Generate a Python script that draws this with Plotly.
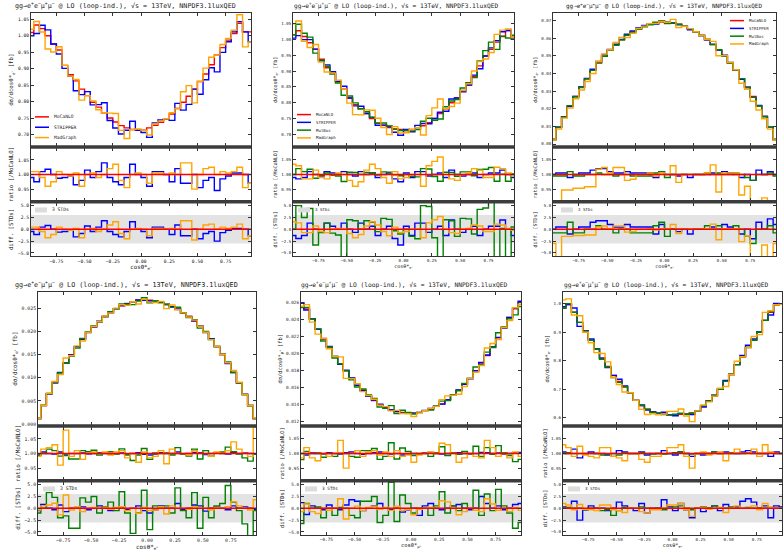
import plotly.graph_objects as go

W, H = 784, 553

# ---------------------------------------------------------------- binning / ticks
BIN_CENTRES = [-0.975, -0.925, -0.875, -0.825, -0.775, -0.725, -0.675, -0.625, -0.575, -0.525,
               -0.475, -0.425, -0.375, -0.325, -0.275, -0.225, -0.175, -0.125, -0.075, -0.025,
               0.025, 0.075, 0.125, 0.175, 0.225, 0.275, 0.325, 0.375, 0.425, 0.475,
               0.525, 0.575, 0.625, 0.675, 0.725, 0.775, 0.825, 0.875, 0.925, 0.975]
X_TICKS = [-0.75, -0.50, -0.25, 0.00, 0.25, 0.50, 0.75]
RATIO_TICKS = [0.95, 1.00, 1.05]
DIFF_TICKS = [-5.0, -2.5, 0.0, 2.5, 5.0]
STD_BAND = 3.0

# ---------------------------------------------------------------- panel 1
P1_MOCANLO = [1.010, 1.033, 1.022, 1.000, 0.975, 0.957, 0.910, 0.882, 0.863, 0.838,
              0.818, 0.798, 0.783, 0.766, 0.750, 0.738, 0.727, 0.720, 0.715, 0.713,
              0.713, 0.720, 0.728, 0.737, 0.748, 0.762, 0.779, 0.798, 0.816, 0.838,
              0.861, 0.884, 0.912, 0.942, 0.964, 0.987, 1.007, 1.038, 1.012, 1.012]
P1_STRIPPER_RATIO = [0.990, 0.975, 1.010, 1.018, 1.000, 0.987, 0.990, 0.995, 0.965, 0.980,
                     1.015, 0.990, 1.010, 1.040, 0.990, 0.975, 0.965, 0.990, 1.035, 1.000,
                     0.990, 0.960, 1.010, 1.010, 1.000, 0.975, 1.020, 0.970, 0.970, 1.000,
                     0.955, 0.980, 0.990, 0.945, 0.985, 0.995, 1.005, 1.005, 1.000, 0.970]
P1_STRIPPER_DIFF = [-0.45, -1.1, 0.45, 0.8, 0.0, -0.6, -0.45, -0.2, -1.6, -0.9,
                    0.7, -0.45, 0.45, 1.8, -0.45, -1.1, -1.6, -0.45, 1.6, 0.0,
                    -0.45, -1.8, 0.45, 0.45, 0.0, -1.1, 0.9, -1.35, -1.35, 0.0,
                    -2.0, -0.9, -0.45, -2.5, -0.7, -0.2, 0.2, 0.2, 0.0, -1.35]
P1_MADGRAPH_RATIO = [1.010, 1.010, 0.990, 0.960, 0.975, 1.010, 1.000, 0.995, 1.005, 0.960,
                     1.000, 1.005, 0.990, 1.000, 1.020, 1.035, 0.980, 0.955, 1.000, 1.005,
                     1.000, 0.970, 1.005, 1.005, 1.000, 1.005, 1.000, 1.040, 1.040, 0.950,
                     1.000, 1.020, 1.025, 1.000, 1.010, 1.005, 1.010, 1.025, 0.955, 0.970]
P1_MADGRAPH_DIFF = [0.45, 0.45, -0.45, -1.8, -1.1, 0.45, 0.0, -0.2, 0.2, -1.8,
                    0.0, 0.2, -0.45, 0.0, 0.9, 1.6, -0.9, -2.0, 0.0, 0.2,
                    0.0, -1.35, 0.2, 0.2, 0.0, 0.2, 0.0, 1.8, 1.8, -2.25,
                    0.0, 0.9, 1.1, 0.0, 0.45, 0.2, 0.45, 1.1, -2.0, -1.35]

# ---------------------------------------------------------------- panel 2
P2_MOCANLO = [1.015, 1.028, 1.010, 0.990, 0.970, 0.938, 0.911, 0.894, 0.867, 0.844,
              0.815, 0.794, 0.781, 0.766, 0.750, 0.736, 0.729, 0.721, 0.717, 0.715,
              0.712, 0.715, 0.721, 0.727, 0.737, 0.750, 0.766, 0.781, 0.800, 0.815,
              0.839, 0.856, 0.883, 0.917, 0.948, 0.969, 0.992, 1.010, 1.029, 1.012]
P2_STRIPPER_RATIO = [0.990, 0.985, 0.990, 1.010, 1.000, 0.995, 1.010, 1.005, 1.000, 1.010,
                     1.000, 0.995, 1.010, 1.000, 1.005, 0.990, 1.000, 1.005, 0.985, 0.975,
                     1.005, 0.990, 1.010, 1.010, 0.995, 1.000, 1.005, 0.990, 1.015, 1.000,
                     0.995, 1.000, 1.005, 0.990, 1.000, 1.005, 1.005, 1.015, 1.000, 0.990]
P2_STRIPPER_DIFF = [-1.3, -1.95, -1.3, 1.3, 0.0, -0.65, 1.3, 0.65, 0.0, 1.3,
                    0.0, -0.65, 1.3, 0.0, 0.65, -1.3, 0.0, 0.65, -1.95, -3.3,
                    0.65, -1.3, 1.3, 1.3, -0.65, 0.0, 0.65, -1.3, 1.95, 0.0,
                    -0.65, 0.0, 0.65, -1.3, 0.0, 0.65, 0.65, 1.95, 0.0, -1.3]
P2_MULBOS_RATIO = [1.000, 1.020, 1.010, 1.018, 0.987, 0.997, 1.005, 0.997, 0.995, 0.976,
                   1.008, 1.007, 1.000, 1.007, 1.006, 0.998, 1.009, 1.008, 0.999, 0.996,
                   1.000, 0.994, 0.992, 1.020, 1.019, 0.993, 0.977, 1.008, 1.007, 0.994,
                   1.009, 1.009, 0.996, 1.017, 1.018, 1.024, 0.977, 1.001, 0.977, 1.002]
P2_MULBOS_DIFF = [0.0, 5.0, 2.5, 4.4, -3.3, -0.7, 1.3, -0.8, -1.2, -6.0,
                  2.0, 1.8, 0.0, 1.8, 1.5, -0.5, 2.3, 2.1, -0.3, -1.0,
                  0.0, -1.5, -2.0, 5.0, 4.8, -1.8, -5.8, 2.0, 1.8, -1.5,
                  2.3, 2.2, -1.0, 4.2, 4.5, 6.0, -5.8, 0.2, -5.8, 0.5]
P2_MADGRAPH_RATIO = [1.035, 1.030, 0.985, 0.985, 1.015, 0.990, 0.985, 1.000, 1.005, 1.000,
                     0.980, 0.960, 0.975, 1.015, 1.035, 1.020, 0.990, 0.970, 1.010, 0.985,
                     0.990, 1.000, 1.000, 0.960, 1.030, 1.045, 1.060, 1.000, 0.985, 0.980,
                     1.000, 1.005, 1.020, 1.015, 0.990, 0.990, 1.025, 1.020, 1.005, 0.995]
P2_MADGRAPH_DIFF = [1.6, 1.35, -0.7, -0.7, 0.7, -0.45, -0.7, 0.0, 0.2, 0.0,
                    -0.9, -1.8, -1.1, 0.7, 1.6, 0.9, -0.45, -1.35, 0.45, -0.7,
                    -0.45, 0.0, 0.0, -1.8, 1.35, 2.0, 2.7, 0.0, -0.7, -0.9,
                    0.0, 0.2, 0.9, 0.7, -0.45, -0.45, 1.1, 0.9, 0.2, -0.2]

# ---------------------------------------------------------------- panel 3
P3_MOCANLO = [0.0026, 0.0095, 0.0155, 0.0216, 0.0270, 0.0322, 0.0370, 0.0418, 0.0460, 0.0498,
              0.0532, 0.0563, 0.0591, 0.0617, 0.0638, 0.0655, 0.0669, 0.0680, 0.0688, 0.0692,
              0.0691, 0.0687, 0.0680, 0.0668, 0.0655, 0.0637, 0.0616, 0.0592, 0.0564, 0.0533,
              0.0499, 0.0460, 0.0419, 0.0371, 0.0323, 0.0270, 0.0216, 0.0156, 0.0095, 0.0026]
P3_STRIPPER_RATIO = [1.000, 1.005, 1.005, 0.990, 1.000, 1.005, 1.005, 1.015, 1.020, 1.020,
                     1.010, 1.005, 1.005, 1.010, 1.005, 1.005, 1.005, 1.005, 0.990, 1.010,
                     1.000, 1.000, 0.995, 1.000, 0.990, 1.000, 1.000, 1.000, 1.005, 1.000,
                     1.010, 1.005, 1.000, 0.990, 1.000, 0.980, 1.015, 1.000, 1.010, 1.000]
P3_STRIPPER_DIFF = [0.0, 0.5, 0.5, -1.0, 0.0, 0.5, 0.5, 1.5, 1.8, 1.8,
                    1.0, 0.5, 0.5, 1.0, 0.5, 0.5, 0.5, 0.5, -1.0, 1.0,
                    0.0, 0.0, -0.5, 0.0, -1.0, 0.0, 0.0, 0.0, 0.5, 0.0,
                    1.0, 0.5, 0.0, -1.0, 0.0, -2.0, 1.5, 0.0, 2.2, 1.0]
P3_MULBOS_RATIO = [0.995, 0.995, 0.995, 1.010, 0.995, 0.995, 1.000, 1.000, 1.005, 1.000,
                   1.000, 0.995, 1.000, 1.000, 0.995, 0.995, 0.995, 0.995, 1.005, 1.010,
                   0.990, 1.000, 1.000, 1.000, 1.000, 1.000, 1.000, 1.005, 1.000, 1.005,
                   1.000, 1.000, 1.005, 1.000, 0.990, 0.980, 1.000, 1.000, 1.005, 0.995]
P3_MULBOS_DIFF = [-0.75, -0.75, -0.75, 1.5, -0.75, -0.75, 0.0, 0.0, 0.75, 0.0,
                  0.0, -0.75, 0.0, 0.0, -0.75, -0.75, -0.75, -0.75, 0.75, 1.5,
                  -1.5, 0.0, 0.0, 0.0, 0.0, 0.0, 0.0, 0.75, 0.0, 0.75,
                  0.0, 0.0, 0.75, 0.0, -1.5, -3.0, 0.0, 0.0, 0.75, -0.75]
P3_MADGRAPH_RATIO = [0.880, 0.900, 0.947, 0.947, 0.953, 0.953, 0.958, 0.958, 1.018, 1.024,
                     1.005, 1.024, 1.024, 0.980, 0.984, 1.000, 1.000, 1.005, 0.995, 1.005,
                     1.000, 1.030, 0.973, 1.000, 1.000, 1.000, 1.000, 1.005, 1.033, 0.940,
                     1.005, 1.005, 1.005, 0.930, 0.960, 0.900, 0.895, 0.920, 0.890, 0.880]
P3_MADGRAPH_DIFF = [-3.0, -6.0, -1.5, -1.5, -1.3, -1.3, -1.2, -1.2, 0.5, 0.7,
                    0.1, 0.7, 0.7, -0.6, -0.5, 0.0, 0.0, 0.15, -0.15, 0.15,
                    0.0, 1.0, -0.9, 0.0, 0.0, 0.0, 0.0, 0.15, 1.1, -2.2,
                    0.15, 0.15, 0.15, -2.6, -1.4, -6.0, -6.0, -3.3, -6.0, -3.0]

# ---------------------------------------------------------------- panel 4
P4_MOCANLO = [0.0012, 0.0040, 0.0065, 0.0089, 0.0111, 0.0132, 0.0149, 0.0167, 0.0183, 0.0198,
              0.0210, 0.0221, 0.0232, 0.0241, 0.0249, 0.0255, 0.0260, 0.0264, 0.0267, 0.0268,
              0.0267, 0.0265, 0.0262, 0.0258, 0.0253, 0.0247, 0.0240, 0.0232, 0.0222, 0.0211,
              0.0198, 0.0184, 0.0167, 0.0150, 0.0131, 0.0111, 0.0089, 0.0064, 0.0040, 0.0012]
P4_STRIPPER_RATIO = [0.995, 1.005, 1.000, 0.998, 1.005, 0.995, 1.000, 1.000, 1.002, 0.998,
                     1.000, 1.003, 1.000, 0.997, 1.000, 1.002, 0.998, 1.000, 1.003, 0.997,
                     0.995, 0.998, 1.003, 1.000, 1.000, 1.005, 0.998, 1.000, 1.004, 1.003,
                     0.996, 1.000, 1.002, 1.000, 0.998, 1.003, 1.000, 1.002, 1.000, 0.998]
P4_STRIPPER_DIFF = [-0.5, 0.8, 0.0, -0.3, 0.7, -0.7, 0.0, 0.0, 0.3, -0.3,
                    0.0, 0.5, 0.0, -0.5, 0.0, 0.3, -0.3, 0.0, 0.5, -0.5,
                    -1.0, -0.3, 0.5, 0.0, 0.0, 1.0, -0.3, 0.0, 0.7, 0.5,
                    -0.6, 0.0, 0.3, 0.0, -0.3, 0.5, 0.0, 0.3, 0.0, -0.3]
P4_MULBOS_RATIO = [0.995, 1.000, 1.015, 1.010, 0.991, 0.993, 0.981, 0.981, 1.010, 1.006,
                   1.011, 0.995, 1.001, 1.006, 0.998, 1.016, 0.995, 0.976, 0.995, 1.017,
                   0.980, 1.002, 1.000, 1.002, 0.995, 1.020, 0.998, 0.991, 1.015, 0.981,
                   1.010, 0.991, 1.002, 1.005, 1.022, 1.006, 0.998, 0.985, 0.974, 0.998]
P4_MULBOS_DIFF = [-1.0, 0.0, 3.3, 2.3, -2.0, -1.6, -4.2, -4.2, 2.2, 1.3,
                  2.5, -1.0, 0.3, 1.3, -0.5, 3.5, -1.0, -5.3, -1.0, 3.8,
                  -4.5, 0.5, 0.0, 0.5, -1.0, 4.3, -0.5, -2.0, 3.3, -4.2,
                  2.3, -2.0, 0.5, 1.0, 4.8, 1.3, -0.5, -3.3, -5.8, -0.5]
P4_MADGRAPH_RATIO = [0.990, 1.015, 1.020, 1.030, 0.960, 1.080, 0.990, 1.010, 0.980, 1.000,
                     1.005, 1.000, 1.005, 0.995, 1.005, 1.010, 0.985, 1.000, 0.970, 1.005,
                     0.985, 0.990, 1.010, 0.965, 1.015, 1.000, 1.000, 0.995, 1.010, 1.000,
                     1.000, 0.990, 1.005, 1.000, 1.010, 1.040, 1.015, 1.000, 0.990, 1.090]
P4_MADGRAPH_DIFF = [-0.35, 0.5, 0.7, 1.05, -1.4, 2.8, -0.35, 0.35, -0.7, 0.0,
                    0.2, 0.0, 0.2, -0.2, 0.2, 0.35, -0.5, 0.0, -1.05, 0.2,
                    -0.5, -0.35, 0.35, -1.2, 0.5, 0.0, 0.0, -0.2, 0.35, 0.0,
                    0.0, -0.35, 0.2, 0.0, 0.35, 1.4, 0.5, 0.0, -0.35, 1.8]

# ---------------------------------------------------------------- panel 5
P5_MOCANLO = [0.0260, 0.0253, 0.0241, 0.0229, 0.0218, 0.0208, 0.0197, 0.0188, 0.0180, 0.0171,
              0.0163, 0.0157, 0.0150, 0.0145, 0.0140, 0.0137, 0.0134, 0.0132, 0.0131, 0.0130,
              0.0130, 0.0131, 0.0133, 0.0135, 0.0138, 0.0141, 0.0146, 0.0151, 0.0157, 0.0164,
              0.0171, 0.0180, 0.0189, 0.0198, 0.0208, 0.0219, 0.0231, 0.0243, 0.0253, 0.0261]
P5_STRIPPER_RATIO = [1.000, 0.995, 1.002, 1.000, 0.998, 1.003, 1.000, 0.998, 1.003, 1.005,
                     1.000, 0.997, 1.000, 1.003, 1.005, 1.000, 0.998, 1.000, 0.995, 0.998,
                     1.000, 0.997, 1.002, 1.004, 1.000, 0.998, 1.000, 1.002, 1.003, 1.000,
                     0.998, 1.000, 1.004, 1.003, 1.000, 1.002, 0.998, 1.000, 1.003, 1.004]
P5_STRIPPER_DIFF = [1.2, -1.3, 0.5, 0.0, -0.3, 0.7, 0.0, -0.3, 0.7, 1.8,
                    1.5, -0.5, 0.0, 0.5, 1.0, 0.0, -0.3, 0.0, -0.8, -0.3,
                    0.0, -1.5, 0.5, 1.0, 0.0, -0.3, 0.0, 0.5, 0.8, 0.0,
                    -0.3, 0.0, 2.5, 1.0, 0.0, 0.5, -0.3, 0.0, 0.8, 1.0]
P5_MULBOS_RATIO = [0.979, 1.007, 1.000, 1.002, 0.987, 1.000, 0.990, 1.001, 1.000, 0.990,
                   0.987, 1.010, 1.010, 1.017, 0.980, 0.990, 1.037, 0.981, 1.019, 1.007,
                   0.993, 1.000, 1.000, 0.990, 1.003, 1.023, 0.993, 1.003, 0.997, 1.007,
                   1.000, 1.025, 0.990, 1.020, 0.997, 1.027, 1.003, 0.993, 0.972, 0.980]
P5_MULBOS_DIFF = [-3.2, 1.0, 0.0, 0.3, -2.0, 0.0, -1.5, 0.2, 0.0, -1.5,
                  -2.0, 1.5, 1.5, 2.5, -3.0, -1.5, 5.5, -2.8, 2.8, 1.0,
                  -1.0, 0.0, 0.0, -1.5, 0.5, 3.5, -1.0, 0.5, -0.5, 1.0,
                  0.0, 3.8, -1.5, 3.0, -0.5, 4.0, 0.5, -1.0, -4.2, -3.0]
P5_MADGRAPH_RATIO = [0.985, 1.020, 0.985, 0.975, 1.000, 0.990, 1.000, 1.045, 0.950, 1.000,
                     1.010, 0.990, 1.005, 1.010, 0.995, 1.005, 0.990, 1.010, 0.990, 0.995,
                     0.970, 0.995, 1.000, 1.005, 1.000, 1.035, 1.030, 1.000, 0.970, 0.985,
                     1.000, 0.990, 0.985, 1.045, 1.020, 0.990, 1.000, 0.985, 1.005, 0.990]
P5_MADGRAPH_DIFF = [-0.7, 0.9, -0.7, -1.1, 0.0, -0.45, 0.0, 2.0, -2.25, 0.0,
                    0.45, -0.45, 0.2, 0.45, -0.2, 0.2, -0.45, 0.45, -0.45, -0.2,
                    -1.35, -0.2, 0.0, 0.2, 0.0, 1.6, 1.35, 0.0, -1.35, -0.7,
                    0.0, -0.45, -0.7, 2.0, 0.9, -0.45, 0.0, -0.7, 0.2, -0.45]

# ---------------------------------------------------------------- panel 6
P6_MOCANLO = [0.985, 0.998, 0.971, 0.935, 0.905, 0.872, 0.841, 0.809, 0.780, 0.748,
              0.727, 0.707, 0.687, 0.660, 0.641, 0.629, 0.619, 0.615, 0.612, 0.609,
              0.609, 0.611, 0.611, 0.616, 0.623, 0.640, 0.658, 0.675, 0.699, 0.727,
              0.751, 0.786, 0.814, 0.846, 0.872, 0.901, 0.942, 0.971, 0.997, 0.999]
P6_STRIPPER_RATIO = [1.005, 1.000, 1.015, 0.985, 1.000, 1.005, 1.000, 1.000, 0.995, 1.000,
                     1.010, 1.005, 1.000, 1.000, 1.005, 0.995, 1.000, 1.000, 1.010, 1.000,
                     0.995, 1.005, 1.000, 0.990, 1.000, 0.995, 1.000, 1.005, 1.000, 1.005,
                     1.000, 1.000, 1.005, 1.010, 1.005, 1.000, 1.000, 0.990, 1.005, 1.000]
P6_STRIPPER_DIFF = [0.3, 0.0, 1.5, -2.5, -0.3, 0.5, 0.0, 0.0, -0.5, 0.0,
                    1.3, 0.5, 0.0, -0.5, 1.0, -1.0, 0.0, 0.0, 1.8, 0.3,
                    -0.5, 1.0, -0.3, -2.0, 0.0, -0.7, 0.0, 0.5, -0.5, 0.8,
                    0.0, 0.3, 1.5, 2.0, 1.3, 0.0, 0.5, -2.0, 0.5, 0.3]
P6_MULBOS_RATIO = [1.000, 1.003, 1.000, 1.000, 0.998, 1.000, 1.000, 0.995, 0.997, 0.990,
                   0.995, 1.002, 1.000, 1.000, 1.003, 1.000, 0.998, 1.000, 0.997, 1.000,
                   1.003, 1.005, 1.000, 0.998, 1.000, 1.003, 1.000, 1.005, 1.000, 1.000,
                   1.003, 1.000, 1.000, 1.002, 1.000, 1.000, 1.000, 1.002, 1.000, 1.000]
P6_MULBOS_DIFF = [0.0, 0.2, 0.0, 0.0, -0.3, 0.0, 0.0, -0.5, -0.3, -1.5,
                  -0.5, 0.2, 0.0, 0.0, 0.3, 0.0, -0.2, 0.0, -0.3, 0.0,
                  0.3, 0.5, 0.0, -0.3, 0.0, 0.3, 0.0, 0.5, 0.0, 0.0,
                  0.3, 0.0, 0.0, 0.2, 0.0, 0.0, 0.0, 0.2, 0.0, 0.0]
P6_MADGRAPH_RATIO = [1.030, 1.020, 0.990, 1.025, 0.995, 0.990, 0.985, 1.020, 1.020, 0.990,
                     0.985, 0.975, 1.000, 1.000, 0.980, 0.970, 0.990, 0.990, 1.000, 1.020,
                     1.020, 1.030, 0.990, 0.950, 1.000, 1.005, 0.995, 1.000, 1.005, 0.975,
                     1.000, 1.015, 1.000, 1.000, 1.015, 0.990, 1.030, 1.005, 1.000, 1.000]
P6_MADGRAPH_DIFF = [1.0, 0.7, -0.3, 0.8, -0.2, -0.3, -0.5, 0.7, 0.7, -0.3,
                    -0.5, -0.9, 0.0, 0.0, -0.7, -1.0, -0.3, -0.3, 0.0, 0.7,
                    0.7, 1.0, -0.3, -1.7, 0.0, 0.2, -0.2, 0.0, 0.2, -0.9,
                    0.0, 0.5, 0.0, 0.0, 0.5, -0.3, 1.0, 0.2, 0.0, 0.0]

# ---------------------------------------------------------------- per-panel axis text
OBSERVABLE = ["e<sup>−</sup>", "e<sup>+</sup>", "e<sup>+</sup>",
              "e<sup>+</sup>", "μ<sup>+</sup>", "e<sup>+</sup>"]
MAIN_TICKS = [
    [0.70, 0.75, 0.80, 0.85, 0.90, 0.95, 1.00, 1.05],
    [0.70, 0.75, 0.80, 0.85, 0.90, 0.95, 1.00, 1.05],
    [0.00, 0.01, 0.02, 0.03, 0.04, 0.05, 0.06, 0.07],
    [0.000, 0.005, 0.010, 0.015, 0.020, 0.025],
    [0.012, 0.014, 0.016, 0.018, 0.020, 0.022, 0.024, 0.026],
    [0.6, 0.7, 0.8, 0.9, 1.0],
]
MAIN_FORMAT = [".2f", ".2f", ".2f", ".3f", ".3f", ".1f"]
MAIN_RANGE = [[0.665, 1.068], [0.663, 1.083], [-0.0011, 0.0741],
              [-0.0002, 0.0284], [0.01161, 0.02724], [0.5733, 1.0406]]

TITLE = ("gg→e<sup>+</sup>e<sup>−</sup>μ<sup>+</sup>μ<sup>−</sup> @ LO (loop-ind.), "
         "√s = 13TeV, NNPDF3.1luxQED")

COLOURS = {"MoCaNLO": "#ff0000", "STRIPPER": "#0000ff",
           "MulBos": "#008000", "MadGraph": "#ffa500"}

PANELS = [
    {"moc": P1_MOCANLO,
     "others": [("STRIPPER", P1_STRIPPER_RATIO, P1_STRIPPER_DIFF),
                ("MadGraph", P1_MADGRAPH_RATIO, P1_MADGRAPH_DIFF)]},
    {"moc": P2_MOCANLO,
     "others": [("STRIPPER", P2_STRIPPER_RATIO, P2_STRIPPER_DIFF),
                ("MulBos", P2_MULBOS_RATIO, P2_MULBOS_DIFF),
                ("MadGraph", P2_MADGRAPH_RATIO, P2_MADGRAPH_DIFF)]},
    {"moc": P3_MOCANLO,
     "others": [("STRIPPER", P3_STRIPPER_RATIO, P3_STRIPPER_DIFF),
                ("MulBos", P3_MULBOS_RATIO, P3_MULBOS_DIFF),
                ("MadGraph", P3_MADGRAPH_RATIO, P3_MADGRAPH_DIFF)]},
    {"moc": P4_MOCANLO,
     "others": [("STRIPPER", P4_STRIPPER_RATIO, P4_STRIPPER_DIFF),
                ("MulBos", P4_MULBOS_RATIO, P4_MULBOS_DIFF),
                ("MadGraph", P4_MADGRAPH_RATIO, P4_MADGRAPH_DIFF)]},
    {"moc": P5_MOCANLO,
     "others": [("STRIPPER", P5_STRIPPER_RATIO, P5_STRIPPER_DIFF),
                ("MulBos", P5_MULBOS_RATIO, P5_MULBOS_DIFF),
                ("MadGraph", P5_MADGRAPH_RATIO, P5_MADGRAPH_DIFF)]},
    {"moc": P6_MOCANLO,
     "others": [("STRIPPER", P6_STRIPPER_RATIO, P6_STRIPPER_DIFF),
                ("MulBos", P6_MULBOS_RATIO, P6_MULBOS_DIFF),
                ("MadGraph", P6_MADGRAPH_RATIO, P6_MADGRAPH_DIFF)]},
]

# ---------------------------------------------------------------- geometry (pixels)
PANEL_X = [(31, 251), (293, 514), (553, 776), (38, 256), (301, 521), (563, 782)]
ROW_OFFSET = [0, 0, 0, 280, 280, 280]
MAIN_Y, RATIO_Y, DIFF_Y = (13.5, 146.5), (148.5, 201.5), (203.5, 257.0)
TITLE_X = [125.5, 395.5, 663.5, 126.5, 403.5, 665.5]
TITLE_SIZE = [6.7, 6.2, 5.95, 6.75, 6.25, 6.2]
TEXT_SCALE = [1.08, 0.95, 0.95, 1.12, 1.02, 0.98]
LEGEND_POS = [  # (line start x, first entry y, row spacing)
    (35, 117.3, 10.4), (297, 115.0, 7.8), (730, 20.7, 7.8),
    (212, 300.7, 7.5), (305, 395.0, 7.5), (568, 395.0, 7.5),
]
STD_LABEL_X = [35, 298, 561, 43, 305, 568]

MONO = "DejaVu Sans Mono"
FRAME = "#333333"
TEXT = "#222222"
TICK_SIZE = 4.3
LABEL_SIZE = 5.3
LINE_W = 1.4


def px_x(x0, x1):
    return [x0 / W, x1 / W]


def px_y(y0, y1):
    return [1 - y1 / H, 1 - y0 / H]


fig = go.Figure()
layout = {}
shapes, annotations = [], []


def axis_style(scale):
    return dict(showline=True, mirror="ticks", linecolor=FRAME, linewidth=1,
                ticks="inside", ticklen=3, tickcolor=FRAME, tickwidth=0.8,
                showgrid=False, zeroline=False,
                tickfont=dict(family=MONO, size=TICK_SIZE * scale, color=TEXT))


def step(x, y, name, colour, ax, width=LINE_W):
    fig.add_trace(go.Scatter(
        x=x, y=y, name=name, mode="lines", line=dict(color=colour, width=width, shape="hvh"),
        xaxis="x" + ("" if ax == 1 else str(ax)), yaxis="y" + ("" if ax == 1 else str(ax)),
        showlegend=False, hoverinfo="skip"))


for p, panel in enumerate(PANELS):
    x0, x1 = PANEL_X[p]
    off = ROW_OFFSET[p]
    sc = TEXT_SCALE[p]
    moc = panel["moc"]
    for arr in [moc] + [a for o in panel["others"] for a in o[1:]]:
        assert len(arr) == len(BIN_CENTRES)

    n_main, n_ratio, n_diff = 3 * p + 1, 3 * p + 2, 3 * p + 3
    obs = OBSERVABLE[p]
    lab_font = dict(family=MONO, size=LABEL_SIZE * sc, color=TEXT)

    for n, (ya, yb) in ((n_main, MAIN_Y), (n_ratio, RATIO_Y), (n_diff, DIFF_Y)):
        xa = axis_style(sc)
        xa.update(domain=px_x(x0, x1), range=[BIN_CENTRES[0], BIN_CENTRES[-1]],
                  tickvals=X_TICKS, tickformat=".2f", anchor="y" + ("" if n == 1 else str(n)),
                  showticklabels=(n == n_diff))
        if n == n_diff:
            xa["title"] = dict(text="cosθ*<sub>%s</sub>" % obs, standoff=0, font=lab_font)
        ya_ = axis_style(sc)
        ya_.update(domain=px_y(ya + off, yb + off), anchor="x" + ("" if n == 1 else str(n)))
        if n == n_main:
            ya_.update(range=MAIN_RANGE[p], tickvals=MAIN_TICKS[p], tickformat=MAIN_FORMAT[p],
                       title=dict(text="dσ/dcosθ*<sub>%s</sub> [fb]" % obs, standoff=3,
                                  font=lab_font))
        elif n == n_ratio:
            ya_.update(range=[0.91, 1.091], tickvals=RATIO_TICKS, tickformat=".2f",
                       title=dict(text="ratio [/MoCaNLO]", standoff=3, font=lab_font))
        else:
            ya_.update(range=[-5.65, 5.6], tickvals=DIFF_TICKS, tickformat=".1f",
                       title=dict(text="diff. [STDs]", standoff=3, font=lab_font))
        layout["xaxis" + ("" if n == 1 else str(n))] = xa
        layout["yaxis" + ("" if n == 1 else str(n))] = ya_

    # main distributions: MoCaNLO and the other tools (MoCaNLO x ratio)
    step(BIN_CENTRES, moc, "MoCaNLO", COLOURS["MoCaNLO"], n_main)
    for name, ratio, diff in panel["others"]:
        vals = [m * r for m, r in zip(moc, ratio)]
        step(BIN_CENTRES, vals, name, COLOURS[name], n_main)

    # ratio and pull panels
    for name, ratio, diff in panel["others"]:
        step(BIN_CENTRES, ratio, name, COLOURS[name], n_ratio)
        step(BIN_CENTRES, diff, name, COLOURS[name], n_diff)
    step(BIN_CENTRES, [m / m for m in moc], "MoCaNLO", COLOURS["MoCaNLO"], n_ratio)
    step(BIN_CENTRES, [m - m for m in moc], "MoCaNLO", COLOURS["MoCaNLO"], n_diff)

    # +-3 standard deviation band
    shapes.append(dict(type="rect", xref="x%d domain" % n_diff, yref="y%d" % n_diff,
                       x0=0, x1=1, y0=-STD_BAND, y1=STD_BAND, fillcolor="#e3e3e3",
                       line=dict(width=0), layer="below"))
    sx = STD_LABEL_X[p]
    sy = 210.7 + off
    shapes.append(dict(type="rect", xref="paper", yref="paper", x0=sx / W, x1=(sx + 12) / W,
                       y0=1 - (sy + 2.5) / H, y1=1 - (sy - 2.5) / H, fillcolor="#dcdcdc",
                       line=dict(width=0)))
    annotations.append(dict(text="3 STDs", x=(sx + 15) / W, y=1 - sy / H, xref="paper",
                            yref="paper", xanchor="left", yanchor="middle", showarrow=False,
                            font=dict(family=MONO, size=TICK_SIZE * sc, color=TEXT)))

    # thick separators between the stacked frames
    for ya, yb in ((MAIN_Y[1] - 0.8, RATIO_Y[0] + 0.8), (RATIO_Y[1] - 0.8, DIFF_Y[0] + 0.8)):
        shapes.append(dict(type="rect", xref="paper", yref="paper", x0=x0 / W, x1=x1 / W,
                           y0=1 - (yb + off) / H, y1=1 - (ya + off) / H,
                           fillcolor="#3c3c3c", line=dict(width=0)))

    # legend
    lx, ly, dy = LEGEND_POS[p]
    names = ["MoCaNLO"] + [o[0] for o in panel["others"]]
    for k, name in enumerate(names):
        yy = 1 - (ly + k * dy + off) / H
        shapes.append(dict(type="line", xref="paper", yref="paper", x0=lx / W, x1=(lx + 14) / W,
                           y0=yy, y1=yy, line=dict(color=COLOURS[name], width=1.5)))
        annotations.append(dict(text=name, x=(lx + 17) / W, y=yy, xref="paper", yref="paper",
                                xanchor="left", yanchor="middle", showarrow=False,
                                font=dict(family=MONO, size=TICK_SIZE * sc, color=TEXT)))

    # panel title
    annotations.append(dict(text=TITLE, x=TITLE_X[p] / W, y=1 - (5.8 + off) / H, xref="paper",
                            yref="paper", xanchor="center", yanchor="middle", showarrow=False,
                            font=dict(family=MONO, size=TITLE_SIZE[p], color=TEXT)))

fig.update_layout(**layout)
fig.update_layout(width=W, height=H, margin=dict(l=0, r=0, t=0, b=0),
                  paper_bgcolor="white", plot_bgcolor="white", showlegend=False,
                  shapes=shapes, annotations=annotations)
fig.write_html("out.html")
